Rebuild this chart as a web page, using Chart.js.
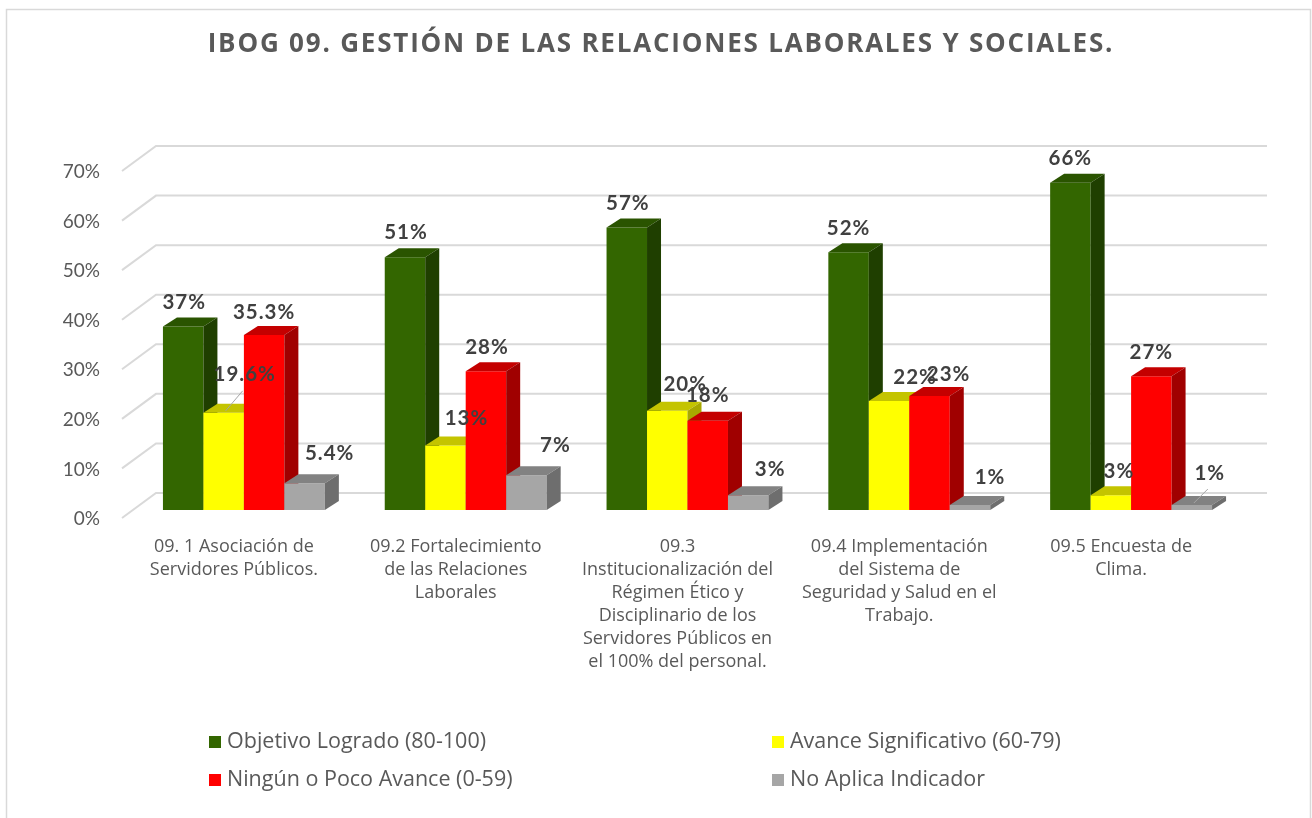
<!DOCTYPE html>
<html>
<head>
<meta charset="utf-8">
<script src="https://cdn.jsdelivr.net/npm/chart.js@4.4.1/dist/chart.umd.min.js"></script>
<style>
html, body { margin: 0; padding: 0; background: #fff; }
canvas { display: block; }
</style>
</head>
<body>
<canvas id="chartBar" width="1312" height="818"></canvas>
<script>
const chartTitle = 'IBOG 09. GESTIÓN DE LAS RELACIONES LABORALES Y SOCIALES.';
const categories = [
    ['09. 1 Asociación de', 'Servidores Públicos.'],
    ['09.2 Fortalecimiento', 'de las Relaciones', 'Laborales'],
    ['09.3', 'Institucionalización del', 'Régimen Ético y', 'Disciplinario de los', 'Servidores Públicos en', 'el 100% del personal.'],
    ['09.4 Implementación', 'del Sistema de', 'Seguridad y Salud en el', 'Trabajo.'],
    ['09.5 Encuesta de', 'Clima.']
];
const seriesNames = ['Objetivo Logrado (80-100)', 'Avance Significativo (60-79)', 'Ningún o Poco Avance (0-59)', 'No Aplica Indicador'];
const logrado = [37, 51, 57, 52, 66];
const significativo = [19.6, 13, 20, 22, 3];
const pocoAvance = [35.3, 28, 18, 23, 27];
const noAplica = [5.4, 7, 3, 1, 1];
const yTicks = [0, 10, 20, 30, 40, 50, 60, 70];

// colores: frente, tapa, lado
const frontColors = ['#336600', '#ffff00', '#ff0000', '#a6a6a6'];
const topColors = ['#2a5400', '#c4c400', '#c40000', '#828282'];
const sideColors = ['#1f3f00', '#a8a800', '#a00000', '#6e6e6e'];

// ajuste de etiquetas [dx, dy] y lineas guia
const labelNudge = [
    [[1, 0], [1, -1], [1, 0], [0, 0], [0, 0]],
    [[21, -14], [21, -3], [18, -2], [26, 0], [8, 0]],
    [[0, 1], [1, 0], [0, -1], [19, 2], [0, 0]],
    [[25, -6], [29, -6], [22, -2], [20, -4], [18, -8]]
];
const leaderLines = [[1, 0], [3, 4]];

const DX = 14, DY = 9;           // profundidad de barra
const FRONT_DX = 11, FRONT_DY = 8;
const WALL_DX = 34, WALL_DY = 25;
const FONT = 'Lato, sans-serif';
const FONT2 = '"Open Sans", sans-serif';

function fmt(v) {
    return (Number.isInteger(v) ? v : v.toFixed(1)) + '%';
}

const bars3d = {
    id: 'bars3d',
    beforeDraw(chart) {
        const ctx = chart.ctx;
        ctx.save();
        ctx.fillStyle = '#fff';
        ctx.fillRect(0, 0, chart.width, chart.height);
        ctx.strokeStyle = '#d9d9d9';
        ctx.lineWidth = 1.5;
        ctx.strokeRect(6.5, 9.5, 1304, 830);

        // titulo
        ctx.font = 'bold 26px ' + FONT2;
        ctx.letterSpacing = '1.8px';
        ctx.fillStyle = '#595959';
        ctx.textAlign = 'center';
        ctx.textBaseline = 'middle';
        ctx.fillText(chartTitle, 661, 45);
        ctx.letterSpacing = '0px';
        ctx.restore();
    },
    beforeDatasetsDraw(chart) {
        const { ctx, chartArea } = chart;
        const y = chart.scales.y;
        ctx.save();
        ctx.strokeStyle = '#d9d9d9';
        ctx.lineWidth = 2;
        yTicks.forEach(v => {
            const py = y.getPixelForValue(v);
            const x0 = chartArea.left - FRONT_DX, y0 = py + FRONT_DY;
            const x1 = x0 + WALL_DX, y1 = y0 - WALL_DY;
            ctx.beginPath();
            ctx.moveTo(x0, y0);
            ctx.lineTo(x1, y1);
            ctx.lineTo(chartArea.right + 25, y1);
            ctx.stroke();
        });
        ctx.restore();
    },
    // las barras se dibujan abajo, en orden de serie
    beforeDatasetDraw() {
        return false;
    },
    afterDatasetsDraw(chart) {
        const ctx = chart.ctx;
        ctx.save();
        chart.data.datasets.forEach((ds, i) => {
            chart.getDatasetMeta(i).data.forEach(bar => {
                bar.draw(ctx);
                const p = bar.getProps(['x', 'y', 'width', 'base'], true);
                const l = p.x - p.width / 2, r = p.x + p.width / 2;
                ctx.fillStyle = topColors[i];
                ctx.beginPath();
                ctx.moveTo(l, p.y);
                ctx.lineTo(r, p.y);
                ctx.lineTo(r + DX, p.y - DY);
                ctx.lineTo(l + DX, p.y - DY);
                ctx.closePath();
                ctx.fill();
                ctx.fillStyle = sideColors[i];
                ctx.beginPath();
                ctx.moveTo(r, p.y);
                ctx.lineTo(r + DX, p.y - DY);
                ctx.lineTo(r + DX, p.base - DY);
                ctx.lineTo(r, p.base);
                ctx.closePath();
                ctx.fill();
            });
        });

        // etiquetas de datos
        ctx.font = 'bold 20.5px ' + FONT;
        ctx.letterSpacing = '1px';
        ctx.textAlign = 'center';
        ctx.textBaseline = 'middle';
        chart.data.datasets.forEach((ds, i) => {
            chart.getDatasetMeta(i).data.forEach((bar, j) => {
                const n = labelNudge[i][j];
                const lx = bar.x + n[0], ly = bar.y - 24 + n[1];
                if (leaderLines.some(a => a[0] === i && a[1] === j)) {
                    ctx.strokeStyle = '#a6a6a6';
                    ctx.lineWidth = 1;
                    ctx.beginPath();
                    ctx.moveTo(bar.x + 2, bar.y - 2);
                    ctx.lineTo(lx - 2, ly + 16);
                    ctx.stroke();
                }
                ctx.fillStyle = '#404040';
                ctx.fillText(fmt(ds.data[j]), lx, ly);
            });
        });
        ctx.letterSpacing = '0px';
        ctx.restore();
    },
    afterDraw(chart) {
        const ctx = chart.ctx;
        const pos = [[213, 742], [776, 742], [213, 780], [776, 780]];
        ctx.save();
        ctx.font = '21.5px ' + FONT2;
        ctx.textBaseline = 'middle';
        ctx.textAlign = 'left';
        chart.data.datasets.forEach((ds, i) => {
            const [x, y] = pos[i];
            ctx.fillStyle = frontColors[i];
            ctx.fillRect(x - 4, y - 6, 12, 12);
            ctx.fillStyle = '#595959';
            ctx.fillText(ds.label, x + 14, y);
        });
        ctx.restore();
    }
};

const ctx = document.getElementById('chartBar').getContext('2d');
new Chart(ctx, {
    type: 'bar',
    data: {
        labels: categories,
        datasets: [
            { label: seriesNames[0], data: logrado, backgroundColor: frontColors[0] },
            { label: seriesNames[1], data: significativo, backgroundColor: frontColors[1] },
            { label: seriesNames[2], data: pocoAvance, backgroundColor: frontColors[2] },
            { label: seriesNames[3], data: noAplica, backgroundColor: frontColors[3] }
        ]
    },
    options: {
        responsive: false,
        animation: false,
        layout: { padding: { left: 0, right: 70, top: 163, bottom: 0 } },
        datasets: { bar: { categoryPercentage: 0.73, barPercentage: 1 } },
        plugins: {
            legend: { display: false },
            tooltip: { enabled: false },
            title: { display: false }
        },
        scales: {
            x: {
                grid: { display: false, drawTicks: false, tickLength: 0 },
                border: { display: false },
                ticks: {
                    color: '#595959',
                    font: { family: FONT2, size: 18, lineHeight: 1.28 },
                    padding: 25.5,
                    labelOffset: -10,
                    maxRotation: 0,
                    autoSkip: false
                },
                afterFit(scale) { scale.height = 308; }
            },
            y: {
                min: 0,
                max: 70,
                grid: { display: false, drawTicks: false, tickLength: 0 },
                border: { display: false },
                ticks: {
                    stepSize: 10,
                    color: '#595959',
                    font: { family: FONT, size: 19 },
                    padding: 33,
                    labelOffset: 9,
                    callback: v => v + '%'
                },
                afterFit(scale) { scale.width = 133; }
            }
        }
    },
    plugins: [bars3d]
});
</script>
</body>
</html>
